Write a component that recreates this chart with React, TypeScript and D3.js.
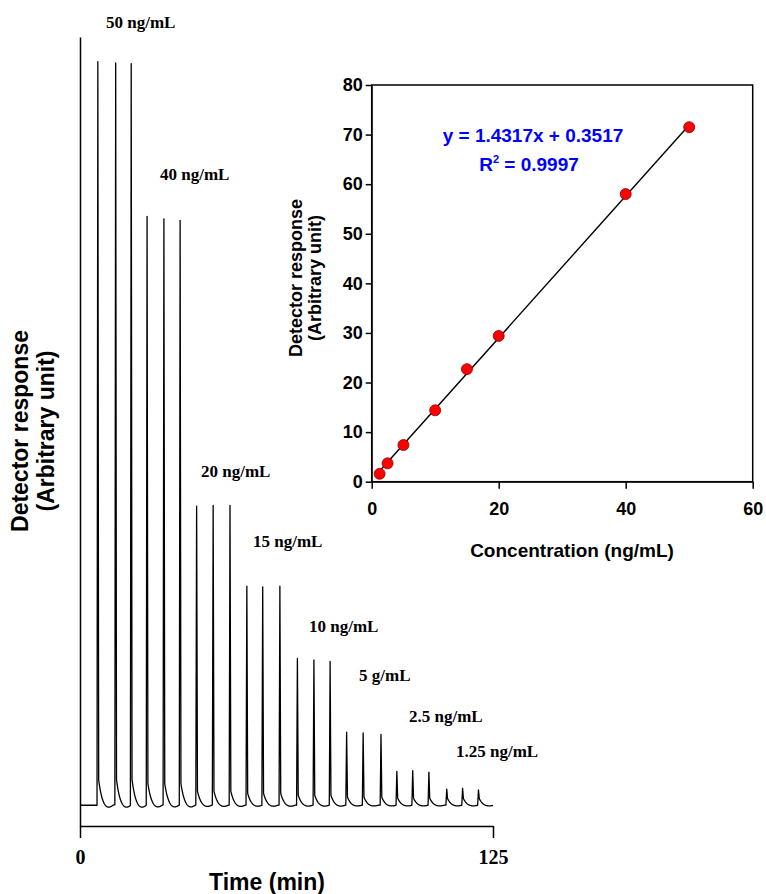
import { useEffect, useRef } from 'react'
import * as d3 from 'd3'

// chromatogram: 8 standards, 3 injections each
const concLabels = ['50 ng/mL', '40 ng/mL', '20 ng/mL', '15 ng/mL', '10 ng/mL', '5 g/mL', '2.5 ng/mL', '1.25 ng/mL']
const peakTimes = [
  5.4, 10.8, 15.5, 20.3, 25.4, 30.3, 35.3, 40.3, 45.4, 50.5, 55.3, 60.5,
  65.8, 70.8, 75.7, 80.7, 85.7, 91.1, 95.9, 100.7, 105.6, 111.0, 115.8, 120.6,
]
const peakHeights = [
  96.8, 96.6, 96.5, 76.6, 76.3, 76.1, 38.9, 39.0, 39.0, 28.5, 28.4, 28.5,
  19.1, 18.9, 18.7, 9.5, 9.4, 9.2, 4.4, 4.5, 4.3, 2.1, 2.2, 2.0,
]
const timeTicks = [0, 125]

// calibration inset
const calConc = [1.25, 2.5, 5, 10, 15, 20, 40, 50]
const calResponse = [1.6, 3.7, 7.4, 14.4, 22.7, 29.4, 58.0, 71.5]
const fitSlope = 1.4317
const fitIntercept = 0.3517
const fitR2 = 0.9997
const calXTicks = [0, 20, 40, 60]
const calYTicks = [0, 10, 20, 30, 40, 50, 60, 70, 80]

// label anchors (px), one per concentration group
const labelAt = [
  [106, 28], [160, 180], [201, 477], [253, 547],
  [309, 632], [359, 681], [409, 722], [456, 757],
]

const SANS = 'Liberation Sans, Arial, sans-serif'
const SERIF = 'Liberation Serif, Times New Roman, serif'

// peak shape: sharp rise, sharp drop to a tail, then exponential decay
const riseW = 0.25
const fallW = 0.25
const tau = 1.1
const signal = (t: number) => {
  let s = 0
  peakTimes.forEach((tp, i) => {
    const h = peakHeights[i]
    const dt = t - tp
    if (dt < -riseW) return
    if (dt <= 0) {
      s += (h * (dt + riseW)) / riseW
      return
    }
    const a = 0.8 + 0.026 * h
    if (dt <= fallW) {
      s += h + ((a - h) * dt) / fallW
      return
    }
    const u = dt - fallW
    s += a * Math.exp(-u / tau)
    if (u < 4.5) s -= (0.15 + 0.004 * h) * Math.sin((Math.PI * u) / 4.5)
  })
  return s
}

export default function App() {
  const svgRef = useRef<SVGSVGElement>(null)

  useEffect(() => {
    const svg = d3.select(svgRef.current)
    svg.selectAll('*').remove()

    // ---- main chromatogram
    const x = d3.scaleLinear().domain([0, 125]).range([80, 493])
    const y = d3.scaleLinear().domain([-2.7, 100]).range([826, 37])

    const times = d3.range(0, 125.001, 0.05)
    peakTimes.forEach((tp) => times.push(tp - riseW, tp, tp + fallW))
    times.sort((a, b) => a - b)

    const line = d3
      .line<number>()
      .x((t) => x(t))
      .y((t) => y(signal(t)))

    svg
      .append('path')
      .attr('d', line(times))
      .attr('fill', 'none')
      .attr('stroke', '#000')
      .attr('stroke-width', 1.3)
      .attr('stroke-linejoin', 'round')

    const yAxis = svg
      .append('g')
      .attr('transform', `translate(${x(0)},0)`)
      .call(d3.axisLeft(y).tickValues([]).tickSizeOuter(0))
    yAxis.select('.domain').attr('stroke-width', 1.5)

    const xAxis = svg
      .append('g')
      .attr('transform', `translate(0,826)`)
      .call(d3.axisBottom(x).tickValues(timeTicks).tickSize(12).tickSizeOuter(0).tickPadding(12))
    xAxis.select('.domain').attr('stroke-width', 1.5)
    xAxis.selectAll('.tick line').attr('stroke-width', 1.5)
    xAxis
      .selectAll('.tick text')
      .attr('font-family', SERIF)
      .attr('font-weight', 'bold')
      .attr('font-size', 20)
      .attr('fill', '#000')

    svg
      .append('text')
      .attr('x', 267)
      .attr('y', 890)
      .attr('text-anchor', 'middle')
      .attr('font-family', SANS)
      .attr('font-weight', 'bold')
      .attr('font-size', 23)
      .text('Time (min)')

    const yt = svg
      .append('text')
      .attr('transform', 'translate(0,431) rotate(-90)')
      .attr('text-anchor', 'middle')
      .attr('font-family', SANS)
      .attr('font-weight', 'bold')
      .attr('font-size', 23)
    yt.append('tspan').attr('x', 0).attr('y', 28).text('Detector response')
    yt.append('tspan').attr('x', 0).attr('y', 54).text('(Arbitrary unit)')

    svg
      .append('g')
      .selectAll('text')
      .data(concLabels)
      .join('text')
      .attr('x', (_, i) => labelAt[i][0])
      .attr('y', (_, i) => labelAt[i][1])
      .attr('font-family', SERIF)
      .attr('font-weight', 'bold')
      .attr('font-size', 17)
      .text((d) => d)

    // ---- calibration inset
    const cx = d3.scaleLinear().domain([0, 60]).range([371.7, 752.7])
    const cy = d3.scaleLinear().domain([0, 80]).range([481.7, 85])

    const ca = svg
      .append('g')
      .attr('transform', `translate(${cx(0)},0)`)
      .call(d3.axisLeft(cy).tickValues(calYTicks).tickSize(6).tickPadding(3).tickSizeOuter(0))
    const cb = svg
      .append('g')
      .attr('transform', `translate(0,${cy(0)})`)
      .call(d3.axisBottom(cx).tickValues(calXTicks).tickSize(7).tickPadding(14).tickSizeOuter(0))
    ;[ca, cb].forEach((g) => {
      g.selectAll('.tick line').attr('stroke-width', 1.5)
      g.selectAll('.tick text')
        .attr('font-family', SANS)
        .attr('font-weight', 'bold')
        .attr('font-size', 18)
        .attr('fill', '#000')
    })

    svg
      .append('rect')
      .attr('x', cx(0))
      .attr('y', cy(80))
      .attr('width', cx(60) - cx(0))
      .attr('height', cy(0) - cy(80))
      .attr('fill', 'none')
      .attr('stroke', '#000')
      .attr('stroke-width', 1.5)

    const fitX = [calConc[0], calConc[calConc.length - 1]]
    svg
      .append('line')
      .attr('x1', cx(fitX[0]))
      .attr('y1', cy(fitSlope * fitX[0] + fitIntercept))
      .attr('x2', cx(fitX[1]))
      .attr('y2', cy(fitSlope * fitX[1] + fitIntercept))
      .attr('stroke', '#000')
      .attr('stroke-width', 1.4)

    svg
      .append('g')
      .selectAll('circle')
      .data(calConc)
      .join('circle')
      .attr('cx', (d) => cx(d))
      .attr('cy', (_, i) => cy(calResponse[i]))
      .attr('r', 5.5)
      .attr('fill', '#ff0000')
      .attr('stroke', '#8b0000')
      .attr('stroke-width', 0.8)

    svg
      .append('text')
      .attr('x', 533)
      .attr('y', 142)
      .attr('text-anchor', 'middle')
      .attr('font-family', SANS)
      .attr('font-weight', 'bold')
      .attr('font-size', 19)
      .attr('fill', '#0000ff')
      .text(`y = ${fitSlope}x + ${fitIntercept}`)

    const r2 = svg
      .append('text')
      .attr('x', 529)
      .attr('y', 171)
      .attr('text-anchor', 'middle')
      .attr('font-family', SANS)
      .attr('font-weight', 'bold')
      .attr('font-size', 19)
      .attr('fill', '#0000ff')
    r2.append('tspan').text('R')
    r2.append('tspan').attr('font-size', 11).attr('dy', -8).text('2')
    r2.append('tspan').attr('dy', 8).text(` = ${fitR2}`)

    svg
      .append('text')
      .attr('x', 572)
      .attr('y', 557)
      .attr('text-anchor', 'middle')
      .attr('font-family', SANS)
      .attr('font-weight', 'bold')
      .attr('font-size', 19)
      .text('Concentration (ng/mL)')

    const ct = svg
      .append('text')
      .attr('transform', 'translate(0,278) rotate(-90)')
      .attr('text-anchor', 'middle')
      .attr('font-family', SANS)
      .attr('font-weight', 'bold')
      .attr('font-size', 18)
    ct.append('tspan').attr('x', 0).attr('y', 302).text('Detector response')
    ct.append('tspan').attr('x', 0).attr('y', 321).text('(Arbitrary unit)')
  }, [])

  return (
    <svg
      ref={svgRef}
      width={766}
      height={894}
      style={{ position: 'absolute', left: 0, top: 0, background: '#fff' }}
    />
  )
}
